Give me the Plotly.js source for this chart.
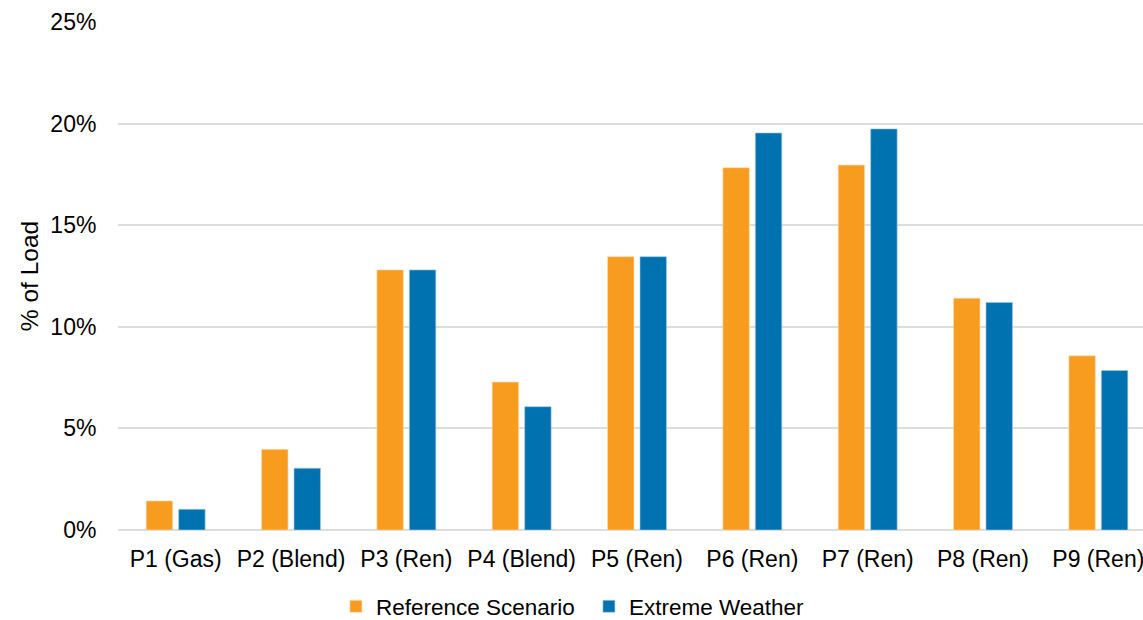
<!DOCTYPE html>
<html>
<head>
<meta charset="utf-8">
<script src="https://cdn.plot.ly/plotly-3.0.1.min.js"></script>
<style>
  html, body { margin: 0; padding: 0; overflow: hidden; background: #ffffff; }
  #chart { width: 1160px; height: 620px; }
</style>
</head>
<body>
<div id="chart"></div>
<script>
// Share of load served by each portfolio, in percent
const categories = ["P1 (Gas)", "P2 (Blend)", "P3 (Ren)", "P4 (Blend)", "P5 (Ren)",
                    "P6 (Ren)", "P7 (Ren)", "P8 (Ren)", "P9 (Ren)"];
const referenceScenario = [1.43, 3.97, 12.8, 7.28, 13.45, 17.83, 17.96, 11.41, 8.57];
const extremeWeather    = [1.02, 3.04, 12.8, 6.07, 13.45, 19.54, 19.74, 11.2, 7.85];
const seriesNames = ["Reference Scenario", "Extreme Weather"];
const yTicks = [0, 5, 10, 15, 20, 25];

const ORANGE = "#F89C1F";
const BLUE = "#0072B0";
const FONT = "Liberation Sans, Arial, sans-serif";

const traces = [
  {
    type: "bar",
    name: seriesNames[0],
    x: categories,
    y: referenceScenario,
    marker: { color: ORANGE, line: { color: "rgba(255,220,180,0.8)", width: 0.8 } },
    hoverinfo: "x+y+name"
  },
  {
    type: "bar",
    name: seriesNames[1],
    x: categories,
    y: extremeWeather,
    marker: { color: BLUE, line: { color: "rgba(160,200,230,0.8)", width: 0.8 } },
    hoverinfo: "x+y+name"
  }
];

const layout = {
  width: 1160,
  height: 620,
  margin: { l: 118, r: 4, t: 22, b: 90, autoexpand: false },
  paper_bgcolor: "#ffffff",
  plot_bgcolor: "#ffffff",
  font: { family: FONT, color: "#000000", size: 22 },
  barmode: "group",
  bargap: 0.437,
  bargroupgap: 0.185,
  showlegend: true,
  legend: {
    orientation: "h",
    xref: "container",
    yref: "container",
    x: 0.5077,
    xanchor: "center",
    y: 0.0215,
    yanchor: "middle",
    font: { family: FONT, size: 22.5, color: "#000000" },
    itemwidth: 30,
    entrywidth: 208,
    traceorder: "normal"
  },
  xaxis: {
    type: "category",
    automargin: false,
    tickfont: { family: FONT, size: 23, color: "#000000" },
    ticks: "outside",
    ticklen: 8,
    tickcolor: "rgba(0,0,0,0)",
    showgrid: false,
    showline: false,
    zeroline: false,
    fixedrange: true
  },
  yaxis: {
    range: [0, 25],
    automargin: false,
    tickvals: yTicks,
    ticktext: yTicks.map(v => v + "%"),
    tickfont: { family: FONT, size: 23, color: "#000000" },
    ticks: "outside",
    ticklen: 16,
    tickcolor: "rgba(0,0,0,0)",
    showgrid: true,
    gridcolor: "#DDDDDD",
    gridwidth: 2,
    zeroline: true,
    zerolinecolor: "#DDDDDD",
    zerolinewidth: 2,
    showline: false,
    title: { text: "% of Load", font: { family: FONT, size: 24.5, color: "#000000" }, standoff: 4 },
    fixedrange: true
  }
};

Plotly.newPlot("chart", traces, layout, { displayModeBar: false, staticPlot: false });
</script>
</body>
</html>
